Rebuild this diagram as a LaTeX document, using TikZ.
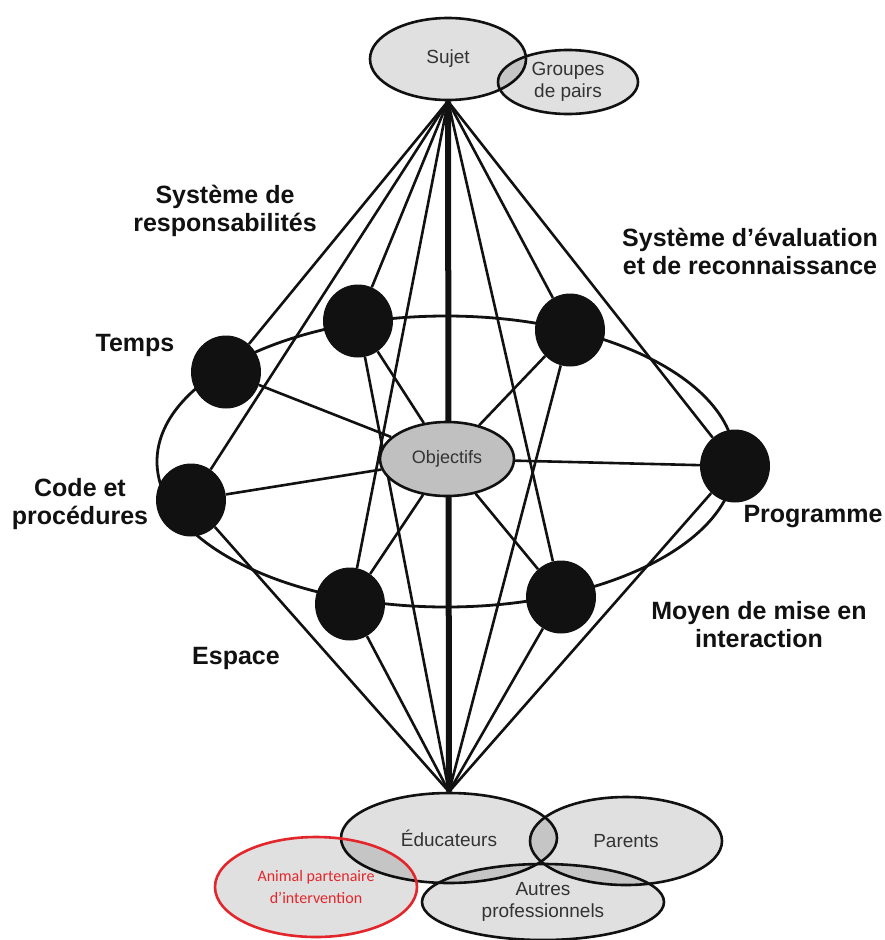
\documentclass[tikz,border=0pt]{standalone}
\usepackage{fontspec}
\setmainfont{Liberation Sans}
\newfontfamily\carlitofont{Carlito}
\usepackage{tikz}
\usetikzlibrary{positioning,shapes.geometric,backgrounds}
\definecolor{ink}      {HTML}{111111}
\definecolor{softink}  {HTML}{333333}
\definecolor{objgray}  {HTML}{C0C0C0}
\definecolor{alert}    {HTML}{E2262B}
\tikzset{
  % --- nodes
  role/.style  = {ellipse, draw=ink, line width=2.6pt, fill=black, fill opacity=0.12,
                  text opacity=1, text=softink, align=center, inner sep=0pt,
                  font=\fontsize{19}{22}\selectfont},
  animal/.style= {role, draw=alert, text=alert, font=\carlitofont\fontsize{16}{22}\selectfont},
  dot/.style   = {ellipse, fill=ink, minimum width=70pt, minimum height=73pt, inner sep=0pt},
  lbl/.style   = {font=\fontsize{25}{28}\selectfont\bfseries, text=ink, align=center,
                  inner sep=0pt},
  % --- edges
  link/.style  = {line width=2.6pt, draw=ink},
  axis/.style  = {line width=6pt, draw=ink},
}
\begin{document}
\begin{tikzpicture}[x=1pt,y=-1pt]
  \useasboundingbox (0,0) rectangle (885,940);
  % outer ring
  \node[ellipse, draw=ink, line width=2.8pt, minimum width=578pt, minimum height=291pt,
        inner sep=0pt] (ring) at (446,461.5) {};
  % components
  \node[dot] (temps)  at (226,372) {};
  \node[dot] (resp)   at (358,321) {};
  \node[dot] (eval)   at (570,330) {};
  \node[dot] (prog)   at (735,466) {};
  \node[dot] (code)   at (191,500) {};
  \node[dot] (espace) at (350,604) {};
  \node[dot] (moyen)  at (561,597) {};
  \node[ellipse, draw=ink, line width=2.6pt, fill=objgray, text=softink, inner sep=0pt,
        minimum width=134pt, minimum height=74pt, font=\fontsize{18}{22}\selectfont]
        (obj) at (447,459) {Objectifs};
  % actors
  \node[role, minimum width=156pt, minimum height=82pt] (sujet) at (448,59) {Sujet};
  \node[role, minimum width=140pt, minimum height=64pt] (pairs) at (568,82) {Groupes\\de pairs};
  \node[role, minimum width=216pt, minimum height=90pt] (educ) at (449,838) {Éducateurs};
  \node[role, minimum width=192pt, minimum height=88pt] (parents) at (626,841) {Parents};
  \node[role, minimum width=242pt, minimum height=76pt] (autres) at (543,902) {Autres\\professionnels};
  \node[animal, minimum width=202pt, minimum height=100pt] (animal) at (316,887)
        {Animal partenaire\\d’intervention};
  \coordinate (apex) at (sujet.south);
  \coordinate (base) at (educ.north);
  % labels
  \node[lbl] (resp-l)   at (225,210.5) {Système de\\responsabilités};
  \node[lbl] (eval-l)   at (750,251.5) {Système d’évaluation\\et de reconnaissance};
  \node[lbl] (temps-l)  at (135,345.6) {Temps};
  \node[lbl] (code-l)   at (80,504.5)  {Code et\\procédures};
  \node[lbl] (prog-l)   at (813,516.5) {Programme};
  \node[lbl] (moyen-l)  at (759,625)   {Moyen de mise en\\interaction};
  \node[lbl] (espace-l) at (236,658.5) {Espace};
  % links
  \begin{scope}[on background layer]
    \draw[axis] (apex) -- (base);
    \foreach \c in {temps,code,resp,espace,eval,moyen,prog}
      \draw[link] (apex) -- (\c);
    \foreach \c in {code,resp,espace,eval,moyen,prog}
      \draw[link] (base) -- (\c);
    \foreach \c in {temps,code,resp,espace,eval,moyen,prog}
      \draw[link] (obj) -- (\c);
  \end{scope}
\end{tikzpicture}
\end{document}
